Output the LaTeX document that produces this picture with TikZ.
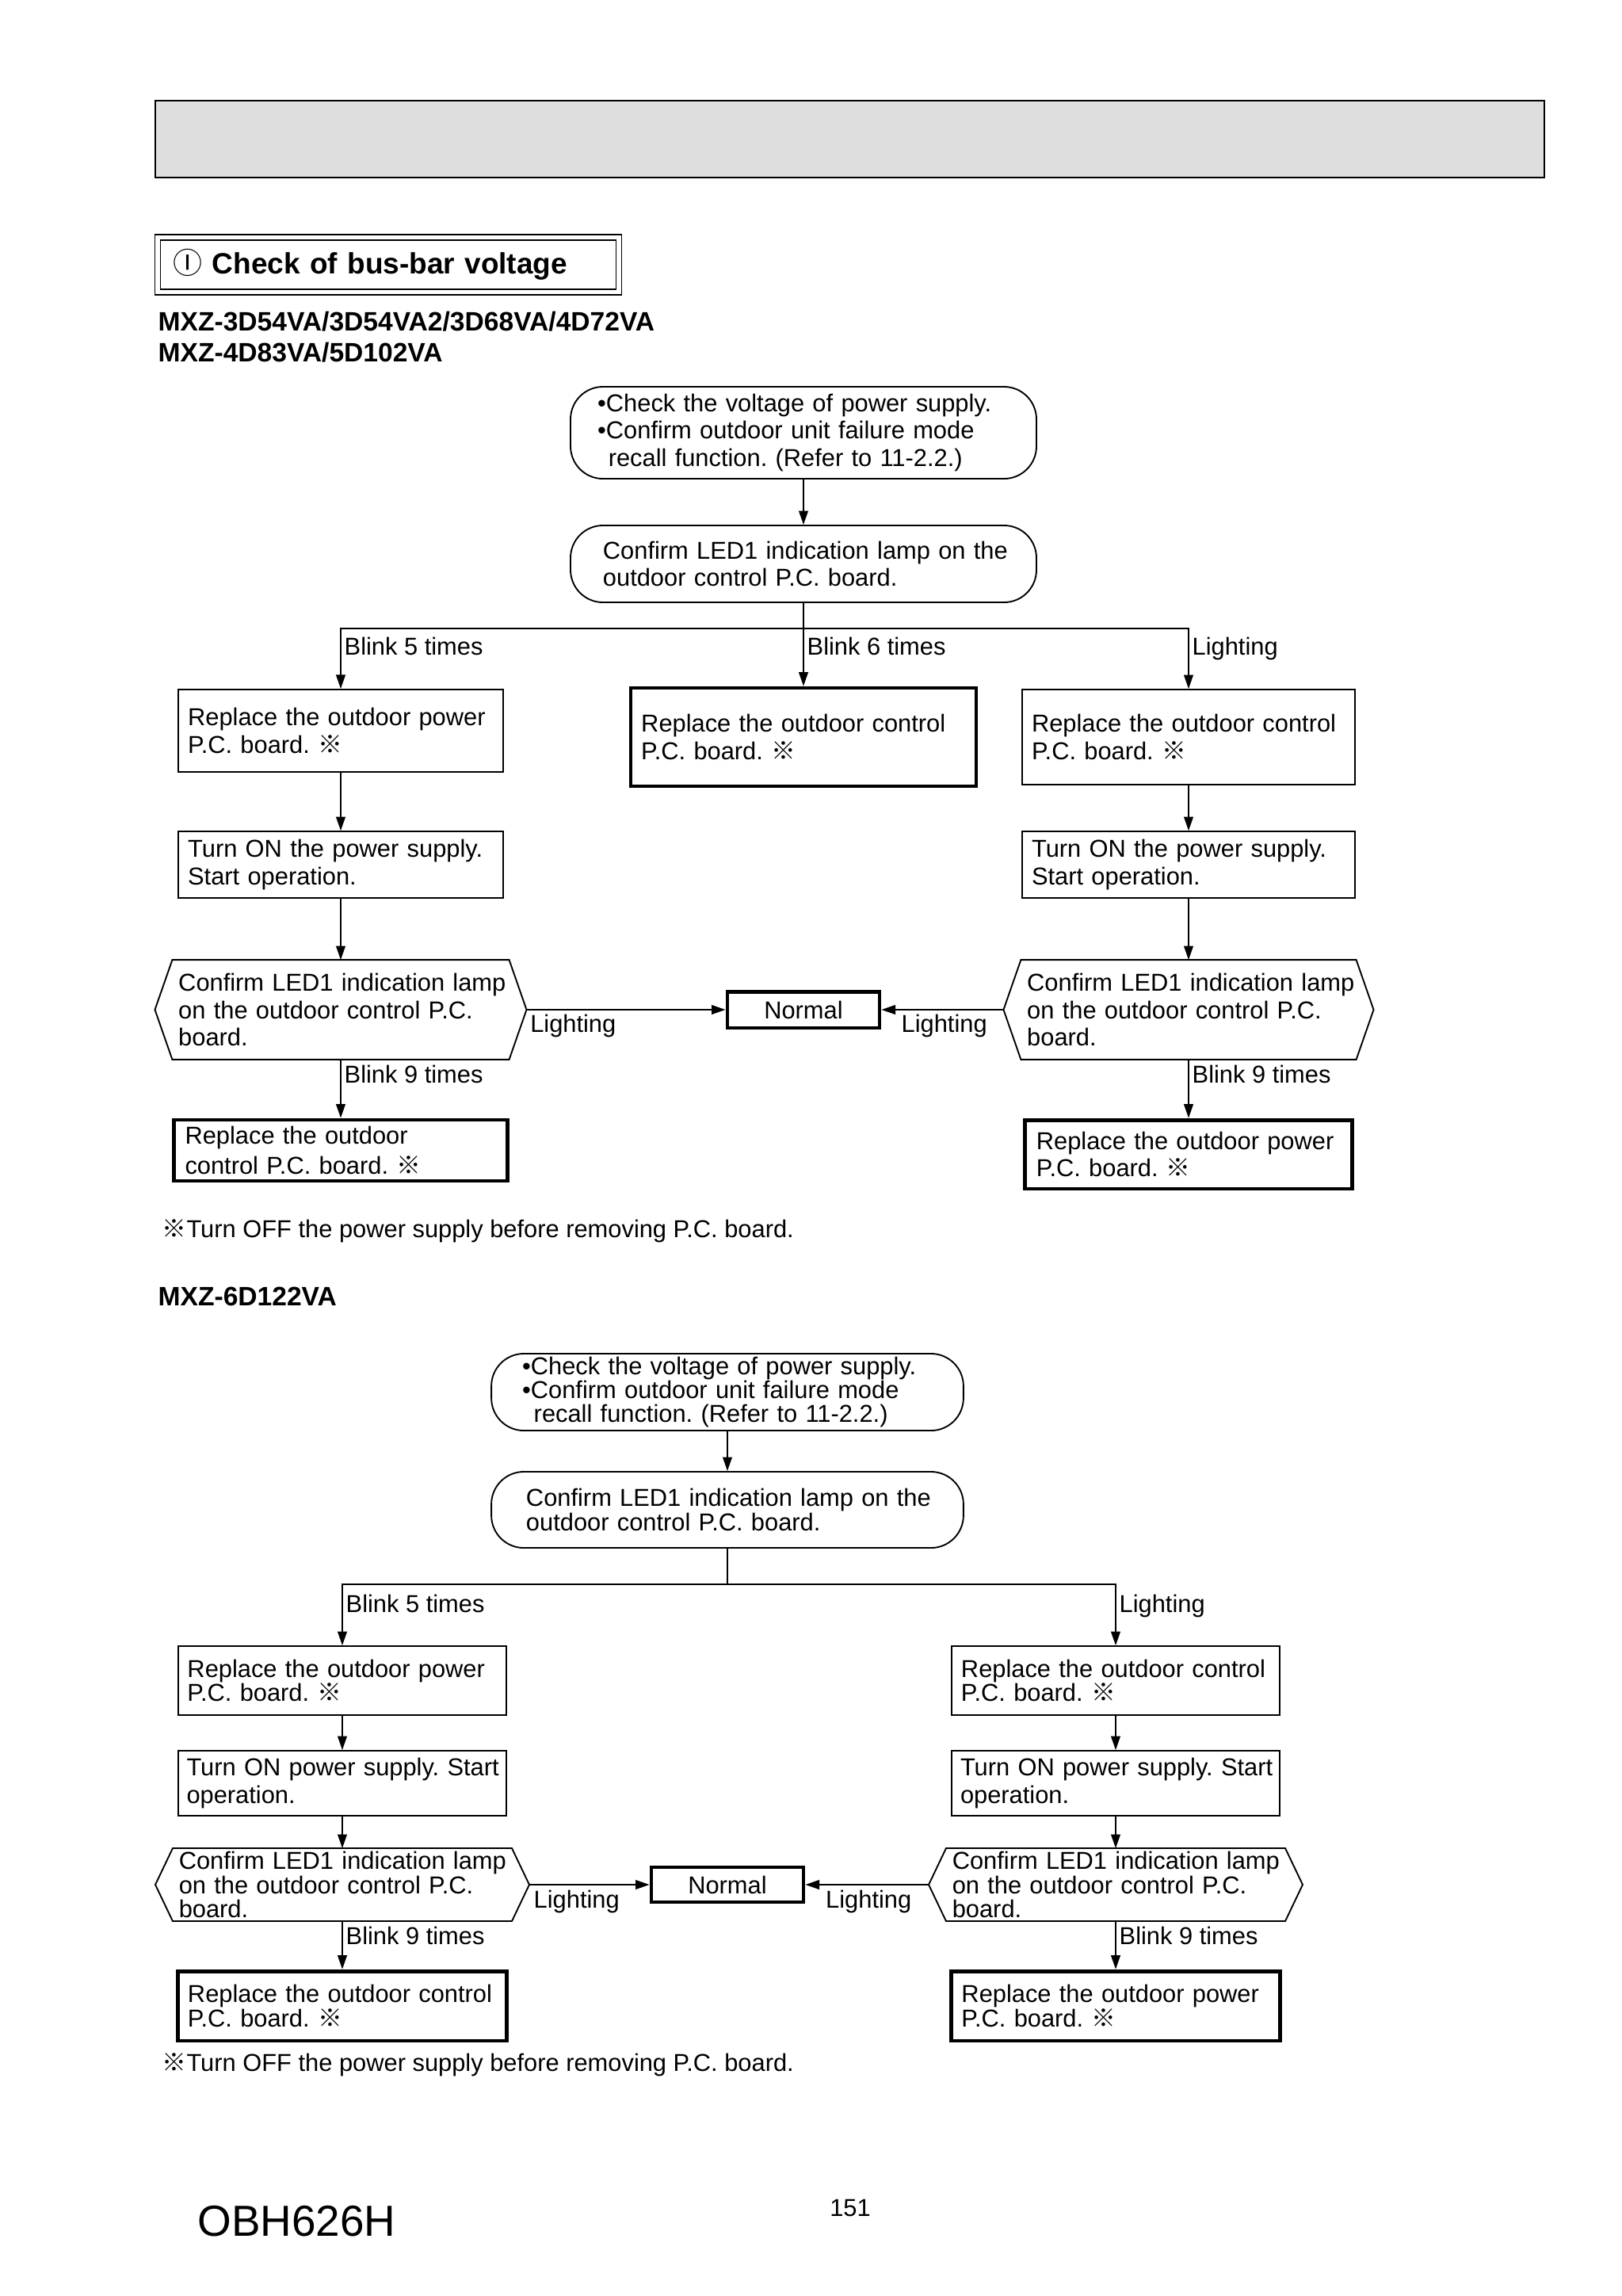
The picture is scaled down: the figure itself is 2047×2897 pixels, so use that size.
\documentclass[tikz,border=0pt]{standalone}
\usepackage{fontspec}
\setmainfont{Liberation Sans}
\newfontfamily\symfont{Noto Sans CJK JP}
\usetikzlibrary{arrows.meta,calc}
\frenchspacing
\newcommand{\kome}{{\symfont ※}}
\newcommand{\bodyfont}{\fontsize{9}{10}\selectfont}
\newcommand{\tightfont}{\fontsize{9}{8.8}\selectfont}
\tikzset{
  stepbox/.style={draw,line width=0.55pt,rectangle,align=left,inner ysep=0pt,inner xsep=1.25mm},
  endbox/.style={stepbox,line width=1.4pt},
  startbox/.style={stepbox,rounded corners=4.2mm},
  askbox/.style={rectangle,align=left,inner ysep=0pt,inner xsep=0.8mm,outer sep=0pt},
  flow/.style={line width=0.55pt,-{Triangle[length=1.8mm,width=1.2mm]}},
  wire/.style={line width=0.55pt},
  lbl/.style={anchor=base west,inner sep=0pt},
  model/.style={anchor=west,inner sep=0pt,font=\fontsize{9.8}{11}\bfseries},
}
\begin{document}
\begin{tikzpicture}[x=0.10255mm,y=-0.10255mm,font=\bodyfont]
  \useasboundingbox (0,0) rectangle (2047,2897);
  \draw[line width=0.6pt,fill=black!13] (196,127) rectangle (1949,224);
  \node[draw,double,double distance=0.55mm,line width=0.5pt,rectangle,align=left,inner sep=0pt,inner xsep=2mm,minimum height=7.1mm,text width=55.7mm,font=\fontsize{10.8}{12}\bfseries] (ttl) at (490,334) {{\mdseries\symfont Ⓘ} Check of bus-bar voltage};
  \node[model] (mod1) at (199,406) {MXZ-3D54VA/3D54VA2/3D68VA/4D72VA};
  \node[model] (mod2) at (199,445) {MXZ-4D83VA/5D102VA};

  \node[startbox,minimum width=60.3mm,minimum height=11.9mm,inner xsep=3.5mm,text width=53.3mm] (s1) at (1014,546) {•Check the voltage of power supply.\\•Confirm outdoor unit failure mode\\\hspace*{1.4mm}recall function. (Refer to 11-2.2.)};
  \node[startbox,minimum width=60.3mm,minimum height=9.95mm,inner xsep=4.2mm,text width=51.9mm] (c1) at (1014,711.5) {\mbox{Confirm LED1 indication lamp on the}\\outdoor control P.C. board.};
  \coordinate (br1) at (1014,793);
  \node[stepbox,minimum height=10.67mm,text width=39.55mm] (p1) at (430,922) {Replace the outdoor power\\P.C. board. \kome};
  \node[endbox,minimum height=12.7mm,inner xsep=1.35mm,text width=42mm] (m1) at (1014,930) {Replace the outdoor control\\P.C. board. \kome};
  \node[stepbox,minimum height=12.3mm,text width=40.6mm] (r1) at (1500,930) {Replace the outdoor control\\P.C. board. \kome};
  \node[stepbox,minimum height=8.6mm,text width=39.55mm] (o1) at (430,1091) {Turn ON the power supply.\\Start operation.};
  \node[stepbox,minimum height=8.6mm,text width=40.6mm] (o2) at (1500,1091) {Turn ON the power supply.\\Start operation.};
  \node[askbox,minimum height=12.9mm,text width=42mm] (h1) at (430,1274) {\mbox{Confirm LED1 indication lamp}\\on the outdoor control P.C.\\board.};
  \node[askbox,minimum height=12.9mm,text width=41.8mm] (h2) at (1500,1274) {\mbox{Confirm LED1 indication lamp}\\on the outdoor control P.C.\\board.};
  \node[endbox,align=center,inner xsep=0pt,minimum width=19.7mm,minimum height=4.7mm] (n1) at (1014,1274) {Normal};
  \node[endbox,minimum height=7.9mm,inner xsep=1.45mm,text width=40.3mm,font=\fontsize{9}{11}\selectfont] (x1) at (430,1451.5) {Replace the outdoor\\control P.C. board. \kome};
  \node[endbox,minimum height=8.9mm,inner xsep=1.45mm,text width=39.4mm] (x2) at (1500,1456.5) {Replace the outdoor power\\P.C. board. \kome};

  \node[model] (mod3) at (199,1636) {MXZ-6D122VA};
  \node[startbox,font=\tightfont,minimum width=61.1mm,minimum height=9.95mm,inner xsep=4mm,text width=53.1mm] (s2) at (918,1756.5) {•Check the voltage of power supply.\\•Confirm outdoor unit failure mode\\\hspace*{1.5mm}recall function. (Refer to 11-2.2.)};
  \node[startbox,font=\tightfont,minimum width=61.1mm,minimum height=9.85mm,inner xsep=4.5mm,text width=52.1mm] (c2) at (918,1905) {\mbox{Confirm LED1 indication lamp on the}\\outdoor control P.C. board.};
  \coordinate (br2) at (918,1999);
  \node[stepbox,minimum height=8.9mm,inner xsep=1.2mm,text width=40.1mm,font=\tightfont] (p2) at (432,2120.5) {Replace the outdoor power\\P.C. board. \kome};
  \node[stepbox,minimum height=8.9mm,inner xsep=1.2mm,text width=40mm,font=\tightfont] (q2) at (1408,2120.5) {Replace the outdoor control\\P.C. board. \kome};
  \node[stepbox,minimum height=8.4mm,inner xsep=1.1mm,text width=40.3mm] (o3) at (432,2250) {\mbox{Turn ON power supply. Start}\\operation.};
  \node[stepbox,minimum height=8.4mm,inner xsep=1.1mm,text width=40.2mm] (o4) at (1408,2250) {\mbox{Turn ON power supply. Start}\\operation.};
  \node[askbox,minimum height=9.43mm,text width=42.3mm,font=\tightfont] (h3) at (432,2378) {\mbox{Confirm LED1 indication lamp}\\on the outdoor control P.C.\\board.};
  \node[askbox,minimum height=9.43mm,text width=42.3mm,font=\tightfont] (h4) at (1408,2378) {\mbox{Confirm LED1 indication lamp}\\on the outdoor control P.C.\\board.};
  \node[endbox,align=center,inner xsep=0pt,minimum width=19.7mm,minimum height=4.5mm] (n2) at (918,2378) {Normal};
  \node[endbox,minimum height=9mm,inner xsep=1.3mm,text width=40mm,font=\tightfont] (x3) at (432,2531) {Replace the outdoor control\\P.C. board. \kome};
  \node[endbox,minimum height=9mm,inner xsep=1.3mm,text width=39.9mm,font=\tightfont] (x4) at (1408,2531) {Replace the outdoor power\\P.C. board. \kome};

  \foreach \h in {h1,h2,h3,h4}
    \draw[wire] ([xshift=-2.25mm]\h.west) -- (\h.north west) -- (\h.north east) -- ([xshift=2.25mm]\h.east) -- (\h.south east) -- (\h.south west) -- cycle;

  \draw[flow] (s1) -- (c1);
  \draw[wire] (c1) -- (br1);
  \draw[flow] (br1) -| (p1.north);
  \draw[flow] (br1) -- (m1.north);
  \draw[flow] (br1) -| (r1.north);
  \draw[flow] (p1) -- (o1);
  \draw[flow] (o1) -- (h1);
  \draw[flow] (r1) -- (o2);
  \draw[flow] (o2) -- (h2);
  \draw[flow] (h1) -- (x1);
  \draw[flow] (h2) -- (x2);
  \draw[flow] ([xshift=2.25mm]h1.east) -- (n1.west);
  \draw[flow] ([xshift=-2.25mm]h2.west) -- (n1.east);
  \node[lbl] (lb1) at ($(p1.north|-br1)+(4,33)$) {Blink 5 times};
  \node[lbl] (lb2) at ($(br1)+(4,33)$) {Blink 6 times};
  \node[lbl] (lb3) at ($(r1.north|-br1)+(4,33)$) {Lighting};
  \node[lbl] (lb4) at ($(h1.east)+(26,28)$) {Lighting};
  \node[lbl,anchor=base east] (lb5) at ($(h2.west)+(-42,28)$) {Lighting};
  \node[lbl] (lb6) at ($(h1.south)+(4,30)$) {Blink 9 times};
  \node[lbl] (lb7) at ($(h2.south)+(4,30)$) {Blink 9 times};
  \node[anchor=west,inner sep=0pt] (fn1) at (204,1553) {\kome Turn OFF the power supply before removing P.C. board.};

  \draw[flow] (s2) -- (c2);
  \draw[wire] (c2) -- (br2);
  \draw[flow] (br2) -| (p2.north);
  \draw[flow] (br2) -| (q2.north);
  \draw[flow] (p2) -- (o3);
  \draw[flow] (o3) -- (h3);
  \draw[flow] (q2) -- (o4);
  \draw[flow] (o4) -- (h4);
  \draw[flow] (h3) -- (x3);
  \draw[flow] (h4) -- (x4);
  \draw[flow] ([xshift=2.25mm]h3.east) -- (n2.west);
  \draw[flow] ([xshift=-2.25mm]h4.west) -- (n2.east);
  \node[lbl] (lb8) at ($(p2.north|-br2)+(4,35)$) {Blink 5 times};
  \node[lbl] (lb9) at ($(q2.north|-br2)+(4,35)$) {Lighting};
  \node[lbl] (lb10) at ($(h3.east)+(27,29)$) {Lighting};
  \node[lbl,anchor=base east] (lb11) at ($(h4.west)+(-43,29)$) {Lighting};
  \node[lbl] (lb12) at ($(h3.south)+(4,29)$) {Blink 9 times};
  \node[lbl] (lb13) at ($(h4.south)+(4,29)$) {Blink 9 times};
  \node[anchor=west,inner sep=0pt] (fn2) at (204,2605) {\kome Turn OFF the power supply before removing P.C. board.};

  \node (pg) at (1073,2786) {151};
  \node[anchor=west,inner sep=0pt,font=\fontsize{16}{18}\selectfont] (doc) at (249,2803) {OBH626H};
\end{tikzpicture}
\end{document}
